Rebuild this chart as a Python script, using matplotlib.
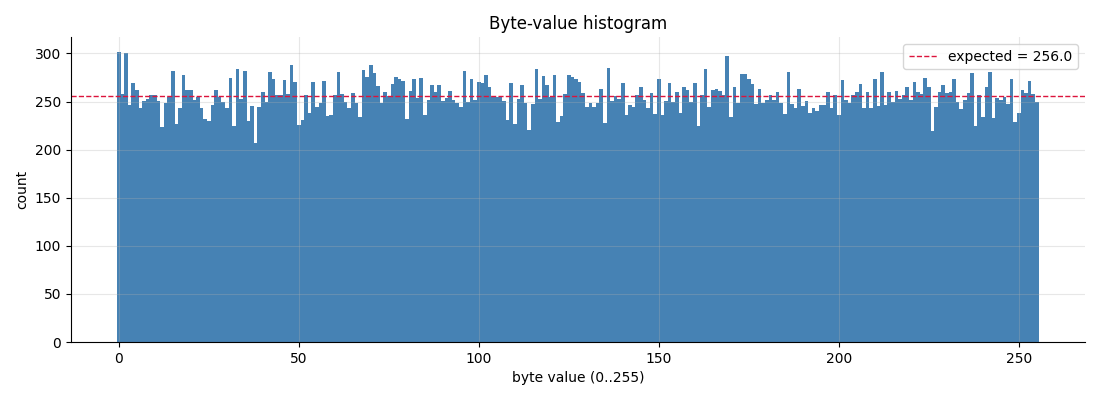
import matplotlib
matplotlib.use("Agg")
import matplotlib.pyplot as plt

# counts per byte value
BYTE_VALUES = list(range(256))
COUNTS = [
    302, 258, 300, 246, 269, 262, 243, 251, 253, 257, 257, 251, 224, 249, 255, 282,
    227, 243, 278, 262, 262, 252, 255, 243, 232, 230, 246, 262, 255, 250, 243, 274,
    225, 284, 253, 282, 230, 245, 207, 244, 260, 250, 281, 273, 257, 257, 272, 258,
    288, 270, 226, 231, 257, 238, 270, 244, 248, 271, 235, 236, 257, 281, 258, 250,
    243, 259, 249, 234, 283, 275, 288, 280, 266, 249, 260, 256, 268, 276, 273, 271,
    232, 261, 273, 254, 274, 236, 252, 267, 260, 267, 251, 254, 261, 252, 248, 244,
    282, 250, 273, 252, 270, 269, 278, 265, 255, 255, 255, 251, 231, 269, 227, 253,
    267, 249, 220, 247, 284, 253, 277, 267, 255, 278, 229, 235, 258, 278, 275, 273,
    270, 259, 244, 248, 244, 249, 263, 228, 285, 251, 256, 253, 269, 236, 246, 244,
    257, 265, 252, 243, 259, 237, 273, 236, 251, 269, 250, 260, 238, 265, 262, 250,
    269, 225, 257, 284, 244, 262, 263, 261, 257, 297, 234, 265, 249, 279, 279, 273,
    268, 247, 263, 248, 252, 257, 252, 260, 248, 237, 281, 247, 243, 263, 245, 251,
    238, 243, 240, 246, 246, 260, 243, 257, 236, 272, 252, 248, 257, 260, 268, 243,
    260, 243, 273, 245, 281, 246, 260, 250, 261, 253, 257, 265, 252, 270, 260, 258,
    274, 265, 219, 244, 260, 267, 259, 260, 273, 250, 242, 252, 259, 280, 225, 257,
    234, 265, 281, 233, 254, 252, 255, 247, 273, 229, 238, 262, 259, 271, 258, 250,
]
EXPECTED = 256.0

fig, ax = plt.subplots(figsize=(11, 4), dpi=100)
ax.bar(BYTE_VALUES, COUNTS, width=1.0, color="steelblue", linewidth=0)
ax.axhline(EXPECTED, color="crimson", linestyle="--", linewidth=1,
           label=f"expected = {EXPECTED}")
ax.set_title("Byte-value histogram")
ax.set_xlabel("byte value (0..255)")
ax.set_ylabel("count")
ax.grid(True, alpha=0.3)
ax.spines["top"].set_visible(False)
ax.spines["right"].set_visible(False)
ax.legend(loc="upper right")
fig.subplots_adjust(left=0.0645, right=0.986, top=0.9075, bottom=0.145)
fig.savefig("out.png", dpi=100)
